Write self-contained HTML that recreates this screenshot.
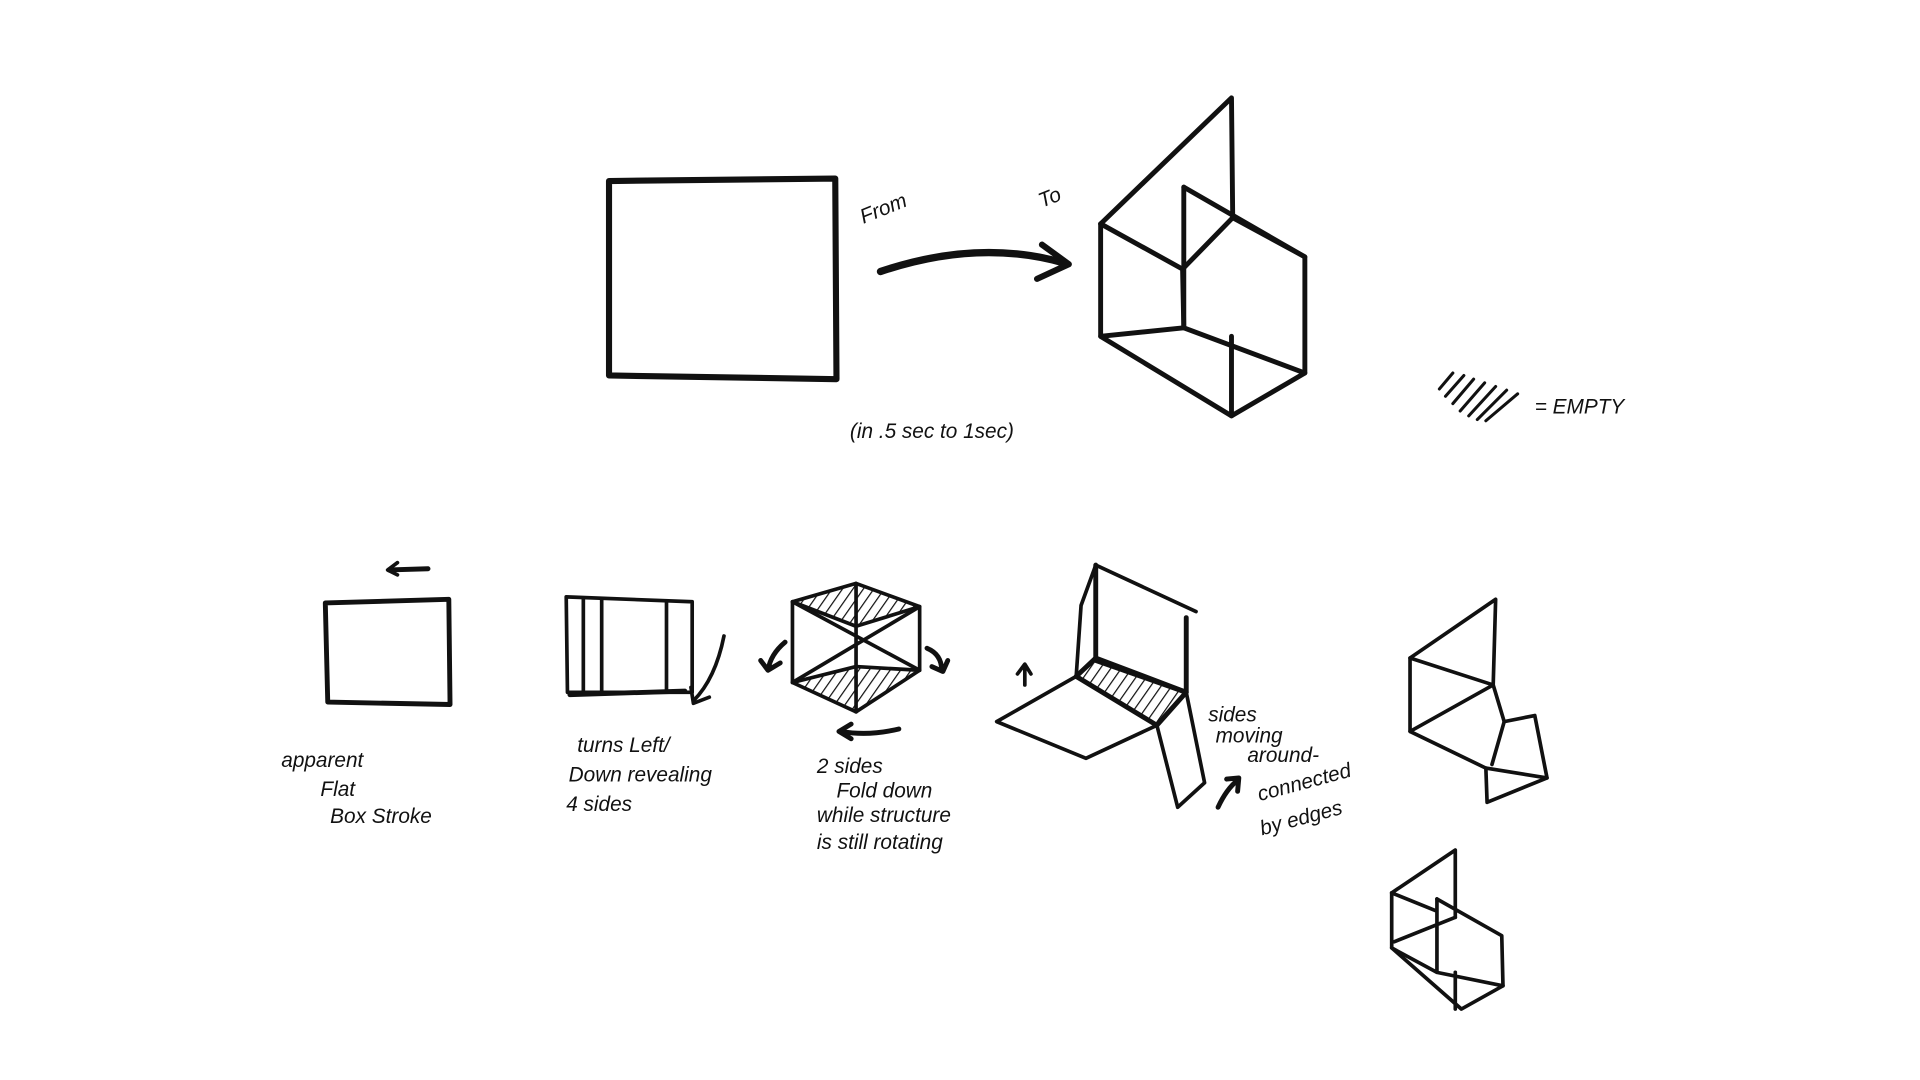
<!DOCTYPE html>
<html><head><meta charset="utf-8"><style>
html,body{margin:0;padding:0;background:#fff;}
svg{display:block}
text{font-family:"Liberation Sans",sans-serif;fill:#111;font-size:17px}
</style></head><body>
<svg width="1920" height="1080" viewBox="0 0 1570 883" preserveAspectRatio="none" xmlns="http://www.w3.org/2000/svg">
<defs>
<pattern id="h" width="7" height="7" patternUnits="userSpaceOnUse" patternTransform="rotate(35)">
<line x1="0" y1="0" x2="0" y2="7" stroke="#111" stroke-width="2"/></pattern>
</defs>
<g fill="none" stroke="#111" stroke-linecap="round" stroke-linejoin="round">
<path d="M498 148 L683 146 L684 310 L498 307 Z" stroke-width="5"/>
<path d="M720 222 Q800 195 870 215" stroke-width="6"/>
<path d="M852 200 L874 216 L848 228" stroke-width="5"/>
<g stroke-width="4">
<path d="M900 183 L1007 80 L1008 178"/>
<path d="M900 183 L900 275 L1007 340 L1067 305 L1067 210 L1008 178"/>
<path d="M900 183 L967 220 L968 268 L1067 305"/>
<path d="M968 153 L968 268 L900 275"/>
<path d="M968 153 L1067 210"/>
<path d="M1007 275 L1007 340"/>
<path d="M1008 178 L967 220"/>
</g>
<g stroke-width="2.5">
<line x1="1177" y1="318" x2="1188" y2="305"/><line x1="1182" y1="324" x2="1197" y2="307"/>
<line x1="1188" y1="330" x2="1205" y2="310"/><line x1="1194" y1="336" x2="1214" y2="313"/>
<line x1="1201" y1="340" x2="1223" y2="316"/><line x1="1208" y1="343" x2="1232" y2="319"/>
<line x1="1215" y1="344" x2="1241" y2="322"/>
</g>
<path d="M266 493 L367 490 L368 576 L268 574 Z" stroke-width="4"/>
<path d="M318 466 L350 465" stroke-width="4"/><path d="M325 460 L317 466 L325 470" stroke-width="3"/>
<g stroke-width="3">
<path d="M463 488 L566 492 L566 566 L464 566 Z"/>
<path d="M477 490 L477 565 M492 490 L492 565 M545 492 L545 565"/>
<path d="M466 568 L560 565" stroke-width="4"/>
<path d="M592 520 Q585 555 567 573" stroke-width="3"/><path d="M565 562 L567 575 L580 570"/>
</g>
<path d="M648 492 L700 477 L752 496 L700 512 Z" fill="url(#h)" stroke-width="3"/>
<path d="M648 558 L700 545 L752 548 L700 582 Z" fill="url(#h)" stroke-width="3"/>
<g stroke-width="3">
<path d="M648 492 L648 558 M752 496 L752 548 M700 512 L700 582 M700 477 L700 545"/>
<path d="M648 492 L752 548 M752 496 L648 558"/>
<path d="M642 525 Q630 535 628 548 M622 540 L628 548 L638 542" stroke-width="4"/>
<path d="M758 530 Q770 535 770 548 M762 545 L771 549 L775 540" stroke-width="4"/>
<path d="M735 596 Q710 602 688 598 M696 592 L686 598 L696 604" stroke-width="4"/>
</g>
<g stroke-width="3">
<path d="M880 553 L884 495 L896 462 L978 500"/>
<path d="M896 462 L896 540 L970 566 L970 505" stroke-width="4"/>
<path d="M880 553 L896 538 L970 566 L946 593 Z" fill="url(#h)" stroke-width="4"/>
<path d="M880 553 L815 590 L888 620 L946 593"/>
<path d="M946 593 L963 660 L985 640 L970 566"/>
<path d="M838 560 L838 545 M832 551 L838 543 L843 551"/>
<path d="M996 660 Q1003 645 1012 638 M1003 637 L1013 636 L1012 647" stroke-width="4"/>
</g>
<g stroke-width="3">
<path d="M1153 538 L1223 490 L1221 560 M1153 538 L1153 598 L1215 628 L1265 636 L1255 585 L1230 590"/>
<path d="M1153 538 L1221 560 L1153 598 M1221 560 L1230 590 M1215 628 L1216 656 L1265 636 M1230 590 L1220 625"/>
</g>
<g stroke-width="3">
<path d="M1138 730 L1190 695 L1190 750 M1138 730 L1138 775 L1195 825 L1229 806 L1228 765 L1175 735"/>
<path d="M1138 730 L1175 745 L1175 795 L1229 806 M1175 735 L1175 795 L1138 775 M1190 750 L1140 770 M1190 795 L1190 825"/>
</g>
</g>
<g font-style="italic">
<text x="706" y="183" transform="rotate(-22 706 183)">From</text>
<text x="852" y="170" transform="rotate(-22 852 170)">To</text>
<text x="695" y="358" font-size="21">(in .5 sec to 1sec)</text>
<text x="1255" y="338" font-size="15">= EMPTY</text>
<text x="230" y="627">apparent</text>
<text x="262" y="651">Flat</text>
<text x="270" y="673">Box Stroke</text>
<text x="472" y="615">turns Left/</text>
<text x="465" y="639">Down revealing</text>
<text x="463" y="663">4 sides</text>
<text x="668" y="632">2 sides</text>
<text x="684" y="652">Fold down</text>
<text x="668" y="672">while structure</text>
<text x="668" y="694">is still rotating</text>
<text x="988" y="590" font-size="16">sides</text>
<text x="994" y="607" font-size="16">moving</text>
<text x="1020" y="623" font-size="16">around-</text>
<text x="1030" y="655" font-size="16" transform="rotate(-15 1030 655)">connected</text>
<text x="1032" y="683" font-size="16" transform="rotate(-15 1032 683)">by edges</text>
</g>
</svg>
</body></html>
